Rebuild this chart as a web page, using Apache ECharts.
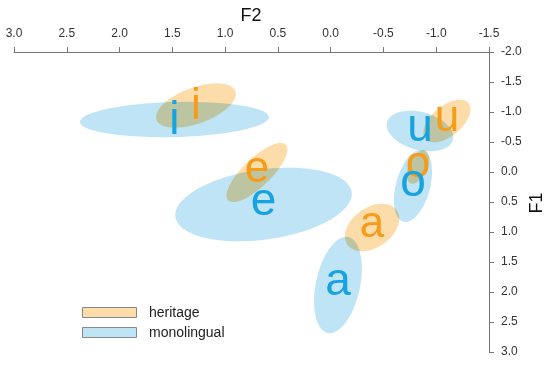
<!DOCTYPE html>
<html>
<head>
<meta charset="utf-8">
<script src="https://cdn.jsdelivr.net/npm/echarts@6/dist/echarts.min.js"></script>
<style>
html,body{margin:0;padding:0;background:#fff;}
#chart{width:550px;height:365px;}
</style>
</head>
<body>
<div id="chart"></div>
<script>
// ---- data (normalised formants) ----
var vowels = ['i', 'e', 'a', 'o', 'u'];
var groups = ['heritage', 'monolingual'];
var axisNames = ['F2', 'F1'];

// heritage speakers: mean F2, mean F1, sd F2, sd F1, correlation
var heritageF2 = [1.276, 0.698, -0.392, -0.827, -1.102];
var heritageF1 = [-1.108, 0.008, 0.925, -0.083, -0.850];
var heritageSdF2 = [0.378, 0.288, 0.257, 0.106, 0.223];
var heritageSdF1 = [0.370, 0.493, 0.396, 0.279, 0.356];
var heritageR = [0.522, 0.782, 0.365, 0.499, 0.548];

// monolingual speakers
var monoF2 = [1.480, 0.636, -0.069, -0.780, -0.846];
var monoF1 = [-0.875, 0.542, 1.883, 0.233, -0.683];
var monoSdF2 = [0.895, 0.836, 0.226, 0.180, 0.315];
var monoSdF1 = [0.294, 0.614, 0.803, 0.600, 0.339];
var monoR = [0.135, 0.284, 0.340, 0.394, -0.294];

// axis ticks
var f2Min = -1.5, f2Max = 3.0, f2Step = 0.5;
var f1Min = -2.0, f1Max = 3.0, f1Step = 0.5;

// ---- styles ----
var FONT = '"Liberation Sans", Arial, sans-serif';
var heritageFill = '#FCDCA8';
var monoFill = '#BEE4F5';
var heritageText = '#F59C1A';
var monoText = '#17A2E0';
var axisColor = '#777777';
var labelColor = '#333333';

function rows(f2, f1, s2, s1, r) {
  return vowels.map(function (v, i) { return [f2[i], f1[i], s2[i], s1[i], r[i], v]; });
}
var heritageRows = rows(heritageF2, heritageF1, heritageSdF2, heritageSdF1, heritageR);
var monoRows = rows(monoF2, monoF1, monoSdF2, monoSdF1, monoR);

function ellipseRenderer(fill) {
  return function (params, api) {
    var cx = api.value(0), cy = api.value(1);
    var s2 = api.value(2), s1 = api.value(3), r = api.value(4);
    var q = Math.sqrt(1 - r * r);
    var pts = [];
    var N = 90;
    for (var k = 0; k < N; k++) {
      var t = 2 * Math.PI * k / N;
      var dx = s2 * Math.cos(t);
      var dy = s1 * (r * Math.cos(t) + q * Math.sin(t));
      pts.push(api.coord([cx + dx, cy + dy]));
    }
    return {
      type: 'polygon',
      shape: { points: pts },
      style: { fill: fill, stroke: null }
    };
  };
}

function labelRenderer(color, size) {
  return function (params, api) {
    var p = api.coord([api.value(0), api.value(1)]);
    var v = vowels[params.dataIndex];
    var adj = (v === 'i') ? 0.04 * size : -0.05 * size;
    return {
      type: 'text',
      x: p[0],
      y: p[1] + adj,
      style: {
        text: v,
        fill: color,
        fontSize: size,
        fontFamily: FONT,
        align: 'center',
        verticalAlign: 'middle'
      }
    };
  };
}

var chart = echarts.init(document.getElementById('chart'), null, { renderer: 'canvas' });

var option = {
  animation: false,
  backgroundColor: '#ffffff',
  grid: { left: 14, right: 61, top: 52, bottom: 13, containLabel: false, outerBoundsMode: 'none' },
  xAxis: {
    type: 'value',
    position: 'top',
    inverse: true,
    min: f2Min, max: f2Max, interval: f2Step,
    axisLine: { show: true, onZero: false, lineStyle: { color: axisColor, width: 1 } },
    axisTick: { show: true, inside: false, length: 5, lineStyle: { color: axisColor } },
    axisLabel: {
      margin: 12, fontSize: 12, fontFamily: FONT, color: labelColor,
      formatter: function (v) { return v.toFixed(1); }
    },
    splitLine: { show: false }
  },
  yAxis: {
    type: 'value',
    position: 'right',
    inverse: true,
    min: f1Min, max: f1Max, interval: f1Step,
    axisLine: { show: true, onZero: false, lineStyle: { color: axisColor, width: 1 } },
    axisTick: { show: true, inside: false, length: 5, lineStyle: { color: axisColor } },
    axisLabel: {
      margin: 12, fontSize: 12, fontFamily: FONT, color: labelColor,
      formatter: function (v) { return v.toFixed(1); }
    },
    splitLine: { show: false }
  },
  series: [
    {
      name: 'monolingual', type: 'custom', data: monoRows, blendMode: 'multiply',
      encode: { x: 0, y: 1 }, renderItem: ellipseRenderer(monoFill), z: 2
    },
    {
      name: 'heritage', type: 'custom', data: heritageRows, blendMode: 'multiply',
      encode: { x: 0, y: 1 }, renderItem: ellipseRenderer(heritageFill), z: 2
    },
    {
      name: 'heritage-labels', type: 'custom', data: heritageRows,
      encode: { x: 0, y: 1 }, renderItem: labelRenderer(heritageText, 44), z: 3
    },
    {
      name: 'monolingual-labels', type: 'custom', data: monoRows,
      encode: { x: 0, y: 1 }, renderItem: labelRenderer(monoText, 46), z: 4
    }
  ],
  graphic: [
    { type: 'text', x: 251, y: 16,
      style: { text: axisNames[0], fontSize: 18, fontFamily: FONT, fill: '#111', align: 'center', verticalAlign: 'middle' } },
    { type: 'text', x: 537, y: 203, rotation: Math.PI / 2,
      style: { text: axisNames[1], fontSize: 18, fontFamily: FONT, fill: '#111', align: 'center', verticalAlign: 'middle' } },
    { type: 'rect', left: 82, top: 307, shape: { width: 54, height: 10 },
      style: { fill: heritageFill, stroke: '#888', lineWidth: 1 } },
    { type: 'rect', left: 82, top: 327, shape: { width: 54, height: 10 },
      style: { fill: monoFill, stroke: '#888', lineWidth: 1 } },
    { type: 'text', left: 149, top: 306, style: { text: groups[0], fontSize: 14, fontFamily: FONT, fill: '#222' } },
    { type: 'text', left: 149, top: 326, style: { text: groups[1], fontSize: 14, fontFamily: FONT, fill: '#222' } }
  ]
};
chart.setOption(option);
</script>
</body>
</html>
